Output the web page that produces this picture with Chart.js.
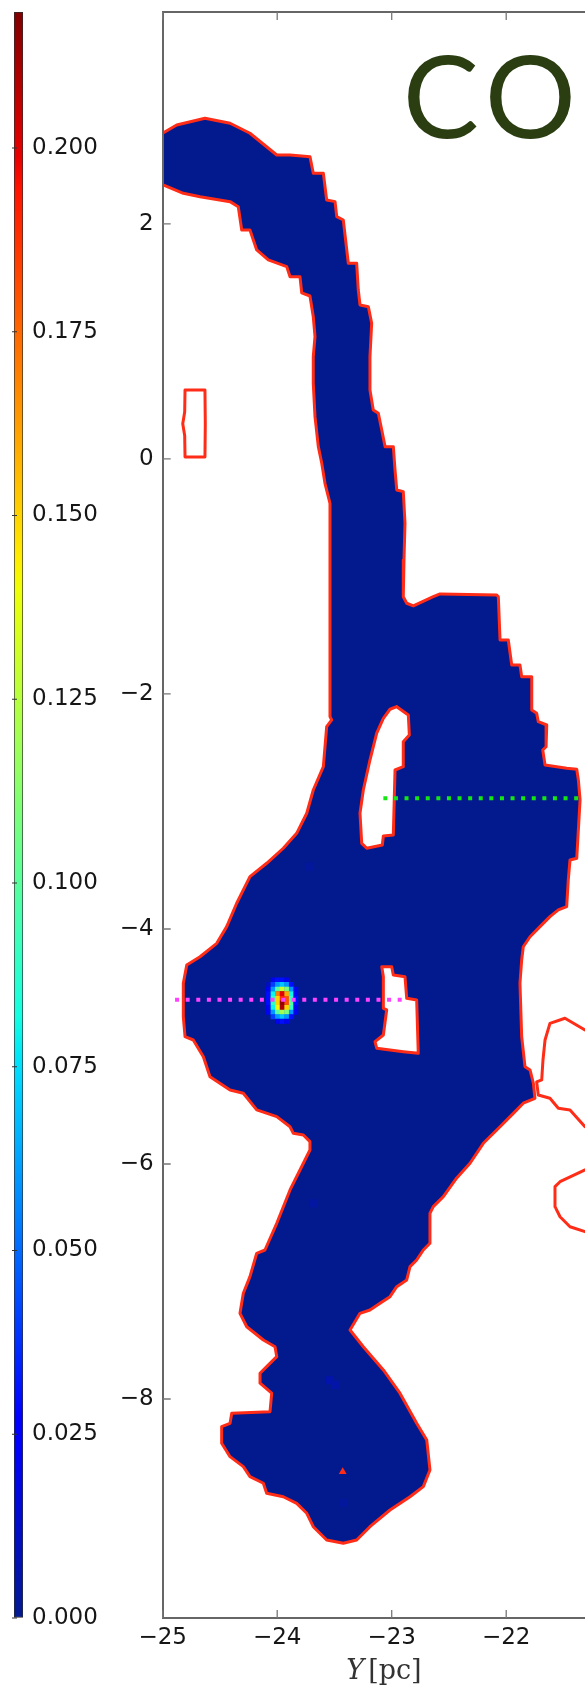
<!DOCTYPE html>
<html>
<head>
<meta charset="utf-8">
<script src="https://cdn.jsdelivr.net/npm/chart.js@4.4.1/dist/chart.umd.min.js"></script>
<style>
  html, body { margin: 0; padding: 0; background: #fff; }
  #stage { position: relative; width: 585px; height: 1688px; overflow: hidden; background: #fff; }
  #map, #cbar { position: absolute; left: 0; top: 0; }
</style>
</head>
<body>
<div id="stage">
  <canvas id="map" width="620" height="1688"></canvas>
  <canvas id="cbar" width="130" height="1688"></canvas>
</div>
<script>
// ---- axes ----------------------------------------------------------------
const hRange = [-25, -21.222];          // horizontal axis, Y [pc]
const vRange = [-9.864, 3.804];         // vertical axis, pc
const hTicks = [-25, -24, -23, -22];
const vTicks = [2, 0, -2, -4, -6, -8];

// ---- colour scale --------------------------------------------------------
const cbarMax = 0.2185;
const cbarTicks = [0, 0.025, 0.05, 0.075, 0.1, 0.125, 0.15, 0.175, 0.2];
const jetStops = [0, 0.11, 0.125, 0.34, 0.35, 0.375, 0.64, 0.65, 0.66, 0.89, 0.91, 1];
const jetRGB = [[3,26,143],[0,0,255],[0,0,255],[0,219,255],[0,230,247],[21,255,226],
                [238,255,8],[247,246,0],[255,236,0],[255,19,0],[232,0,0],[128,0,0]];
const baseLevel = 0;

// ---- cloud boundary (clockwise), horizontal / vertical coordinates ---------
const outlineH = [
 -25.111,-24.997,-24.878,-24.631,-24.412,-24.238,-24.004,-23.888,-23.714,-23.685,
 -23.597,-23.568,-23.495,-23.480,-23.423,-23.379,-23.306,-23.292,-23.277,-23.204,
 -23.175,-23.190,-23.190,-23.161,-23.117,-23.087,-23.058,-22.986,-22.971,-22.956,
 -22.899,-22.884,-22.893,-22.899,-22.869,-22.811,-22.637,-22.578,-22.083,-22.069,
 -22.054,-21.982,-21.952,-21.880,-21.865,-21.777,-21.777,-21.734,-21.720,-21.646,
 -21.652,-21.681,-21.661,-21.472,-21.384,-21.370,-21.355,-21.370,-21.384,-21.443,
 -21.458,-21.472,-21.545,-21.618,-21.705,-21.792,-21.851,-21.865,-21.880,-21.865,
 -21.836,-21.792,-21.763,-21.749,-21.851,-21.938,-22.054,-22.200,-22.316,-22.432,
 -22.549,-22.637,-22.666,-22.666,-22.724,-22.782,-22.840,-22.869,-22.956,-23.015,
 -23.102,-23.190,-23.277,-23.364,-23.248,-23.073,-22.928,-22.782,-22.694,-22.666,
 -22.724,-22.840,-23.015,-23.190,-23.306,-23.423,-23.568,-23.685,-23.742,-23.830,
 -23.947,-24.092,-24.121,-24.238,-24.296,-24.412,-24.485,-24.485,-24.412,-24.397,
 -24.063,-24.048,-24.150,-24.150,-24.092,-24.004,-24.019,-24.121,-24.266,-24.325,
 -24.296,-24.238,-24.179,-24.107,-24.004,-23.888,-23.801,-23.714,-23.714,-23.772,
 -23.859,-23.888,-24.004,-24.179,-24.296,-24.412,-24.587,-24.645,-24.733,-24.805,
 -24.820,-24.820,-24.790,-24.674,-24.528,-24.441,-24.354,-24.238,-24.092,-23.947,
 -23.830,-23.742,-23.685,-23.597,-23.568,-23.524,-23.539,-23.539,-23.539,-23.583,
 -23.611,-23.641,-23.670,-23.685,-23.685,-23.670,-23.685,-23.714,-23.786,-23.801,
 -23.888,-23.917,-24.078,-24.179,-24.238,-24.310,-24.340,-24.412,-24.674,-24.820,
 -24.997,-25.111
];
const outlineV = [
 2.757,2.774,2.843,2.900,2.857,2.772,2.587,2.587,2.573,2.431,
 2.431,2.204,2.190,2.062,2.034,1.666,1.666,1.438,1.311,1.296,
 1.155,0.871,0.587,0.417,0.389,0.247,0.105,0.105,-0.094,-0.264,
 -0.278,-0.547,-0.860,-1.172,-1.228,-1.251,-1.172,-1.149,-1.157,-1.172,
 -1.540,-1.540,-1.753,-1.753,-1.853,-1.853,-2.136,-2.164,-2.236,-2.264,
 -2.449,-2.477,-2.604,-2.632,-2.641,-2.732,-2.902,-3.157,-3.398,-3.413,
 -3.583,-3.810,-3.838,-3.895,-3.980,-4.066,-4.151,-4.264,-4.462,-4.917,
 -5.172,-5.200,-5.313,-5.441,-5.483,-5.569,-5.683,-5.824,-5.994,-6.119,
 -6.278,-6.363,-6.420,-6.675,-6.732,-6.817,-6.874,-6.987,-7.044,-7.129,
 -7.186,-7.243,-7.271,-7.413,-7.555,-7.753,-7.951,-8.207,-8.349,-8.604,
 -8.746,-8.832,-8.945,-9.087,-9.200,-9.228,-9.200,-9.087,-8.973,-8.888,
 -8.832,-8.803,-8.717,-8.661,-8.576,-8.491,-8.377,-8.236,-8.207,-8.122,
 -8.108,-7.951,-7.866,-7.781,-7.725,-7.640,-7.555,-7.498,-7.385,-7.271,
 -7.100,-6.959,-6.760,-6.732,-6.505,-6.221,-6.051,-5.881,-5.810,-5.753,
 -5.739,-5.683,-5.597,-5.540,-5.398,-5.370,-5.257,-5.087,-4.945,-4.917,
 -4.746,-4.462,-4.306,-4.236,-4.122,-3.980,-3.781,-3.555,-3.441,-3.313,
 -3.186,-3.015,-2.817,-2.619,-2.278,-2.221,-2.193,-0.860,-0.377,-0.207,
 -0.037,0.105,0.360,0.644,0.871,1.041,1.211,1.387,1.413,1.551,
 1.551,1.637,1.694,1.779,1.949,1.949,2.147,2.190,2.232,2.261,
 2.332,2.340
];

// ---- gaps inside the cloud -------------------------------------------------
const gap1H = [-22.956,-22.855,-22.846,-22.899,-22.899,-22.971,-22.986,-23.073,-23.082,
               -23.218,-23.262,-23.277,-23.248,-23.190,-23.131,-23.073,-23.015];
const gap1V = [-2.108,-2.179,-2.349,-2.406,-2.619,-2.647,-3.200,-3.209,-3.285,
               -3.313,-3.271,-3.015,-2.817,-2.562,-2.334,-2.207,-2.130];
const gap2H = [-23.087,-23.000,-22.986,-22.884,-22.869,-22.782,-22.768,-22.899,-23.131,
               -23.146,-23.073,-23.044,-23.073,-23.073];
const gap2V = [-4.321,-4.321,-4.391,-4.406,-4.590,-4.604,-5.058,-5.044,-5.015,
               -4.959,-4.902,-4.689,-4.675,-4.406];

// ---- other contour pieces ----------------------------------------------------
const islandH = [-24.805,-24.631,-24.628,-24.631,-24.805,-24.808,-24.825,-24.808,-24.805];
const islandV = [0.587,0.587,0.300,0.017,0.017,0.200,0.300,0.400,0.587];
const eastAH = [-21.181,-21.312,-21.487,-21.618,-21.661,-21.679,-21.690,-21.734,-21.720,
                -21.618,-21.545,-21.443,-21.312,-21.181];
const eastAV = [-4.877,-4.860,-4.760,-4.803,-4.945,-5.115,-5.285,-5.302,-5.413,
                -5.441,-5.526,-5.540,-5.683,-5.753];
const eastBH = [-21.181,-21.312,-21.530,-21.574,-21.574,-21.530,-21.443,-21.312,-21.181];
const eastBV = [-6.009,-6.051,-6.151,-6.193,-6.363,-6.449,-6.534,-6.576,-6.587];
const peakH = [-23.428];
const peakV = [-8.619];

// ---- compact emission source (cell grid) -------------------------------------
const spotH = [-24.076,-24.036,-23.997,-23.956,-23.916,-23.876,-23.837];
const spotV = [-4.434,-4.473,-4.512,-4.551,-4.591,-4.630,-4.669,-4.708,-4.747,-4.786];
const spotVal = [
  [0,    0.02, 0.03, 0.03,  0.02, 0,    0   ],
  [0.01, 0.04, 0.06, 0.07,  0.06, 0.03, 0   ],
  [0.02, 0.06, 0.10, 0.13,  0.11, 0.06, 0.02],
  [0.03, 0.08, 0.17, 0.20,  0.16, 0.08, 0.02],
  [0.03, 0.09, 0.15, 0.19,  0.18, 0.09, 0.03],
  [0.03, 0.09, 0.15, 0.215, 0.18, 0.10, 0.03],
  [0.02, 0.08, 0.14, 0.21,  0.15, 0.09, 0.02],
  [0.02, 0.06, 0.10, 0.12,  0.11, 0.06, 0.02],
  [0,    0.04, 0.06, 0.07,  0.06, 0.03, 0   ],
  [0,    0,    0.02, 0.03,  0.02, 0,    0   ]
];
// weak single cells
const faintH = [-23.685, -23.546, -23.490, -23.425, -23.714];
const faintV = [-6.334, -7.840, -7.880, -8.885, -3.470];
const faintVal = [0.004, 0.006, 0.005, 0.003, 0.003];

// ---- cuts ---------------------------------------------------------------------
const cutGreenH = [-23.073, -21.355];
const cutGreenV = [-2.888, -2.888];
const cutPinkH = [-24.892, -22.899];
const cutPinkV = [-4.602, -4.602];

// ---- helpers --------------------------------------------------------------------
function rgbStr(c) { return `rgb(${Math.round(c[0])},${Math.round(c[1])},${Math.round(c[2])})`; }
function cmap(v) {
  const t = Math.min(1, Math.max(0, v / cbarMax));
  for (let i = 1; i < jetStops.length; i++) {
    if (t <= jetStops[i]) {
      const f = (t - jetStops[i - 1]) / (jetStops[i] - jetStops[i - 1]);
      const a = jetRGB[i - 1], b = jetRGB[i];
      return rgbStr([a[0] + (b[0] - a[0]) * f, a[1] + (b[1] - a[1]) * f, a[2] + (b[2] - a[2]) * f]);
    }
  }
  return rgbStr(jetRGB[jetRGB.length - 1]);
}
function pts(hs, vs) { return hs.map((h, i) => ({ x: h, y: vs[i] })); }
function closed(hs, vs) { const p = pts(hs, vs); return p.concat([p[0]]); }
// ring that starts at its left-most vertex and ends at its right-most one,
// so the filler's horizontal clip spans the whole polygon
function shapeData(hs, vs) {
  const p = pts(hs, vs);
  let lo = 0, hi = 0;
  p.forEach((q, i) => { if (q.x < p[lo].x) lo = i; if (q.x > p[hi].x) hi = i; });
  const ring = p.slice(lo).concat(p.slice(0, lo));
  return ring.concat([ring[0], p[hi]]);
}
const fmtTick = v => (v < 0 ? '\u2212' + Math.abs(v) : String(v));

const spotPts = [], spotCol = [];
spotVal.forEach((row, r) => row.forEach((val, c) => {
  if (val > 0) { spotPts.push({ x: spotH[c], y: spotV[r] }); spotCol.push(cmap(val)); }
}));
const faintPts = pts(faintH, faintV);
const faintCol = faintVal.map(cmap);

const RED = '#ff2d17';
const tickFont = { family: 'DejaVu Sans', size: 23 };
const contour = (data) => ({ data, borderColor: RED, borderWidth: 3, pointRadius: 0, fill: false,
                             borderJoinStyle: 'round', borderCapStyle: 'round', order: 5 });

// ---- decorations drawn on the map chart ----------------------------------------
const mapDecor = {
  id: 'mapDecor',
  afterDraw(chart) {
    const { ctx, chartArea: a, scales: { x, y } } = chart;
    ctx.save();
    // inward tick marks
    ctx.strokeStyle = '#777';
    ctx.lineWidth = 1.3;
    ctx.beginPath();
    hTicks.forEach(v => {
      const px = x.getPixelForValue(v);
      ctx.moveTo(px, a.bottom); ctx.lineTo(px, a.bottom - 8);
      ctx.moveTo(px, a.top); ctx.lineTo(px, a.top + 8);
    });
    vTicks.forEach(v => {
      const py = y.getPixelForValue(v);
      ctx.moveTo(a.left, py); ctx.lineTo(a.left + 8, py);
    });
    ctx.stroke();

    // horizontal axis title: italic Y, then [pc]
    const cx = (a.left + a.right) / 2 + 5;
    const base = a.bottom + 61;
    ctx.fillStyle = '#333';
    ctx.textBaseline = 'alphabetic';
    ctx.textAlign = 'left';
    const fItal = 'italic 27px "DejaVu Serif"', fReg = '27px "DejaVu Serif"';
    ctx.font = fItal; const wY = ctx.measureText('Y').width;
    ctx.font = fReg; const wP = ctx.measureText('[pc]').width;
    const gap = 4;
    const x0 = cx - (wY + gap + wP) / 2;
    ctx.font = fItal; ctx.fillText('Y', x0, base);
    ctx.font = fReg; ctx.fillText('[pc]', x0 + wY + gap, base);

    // species label
    ctx.font = '400 114px Lato';
    ctx.fillStyle = '#2a3e12';
    ctx.fillText('C', a.left + 240, a.top + 126);
    const wC = ctx.measureText('C').width;
    ctx.fillText('O', a.left + 240 + wC + 6, a.top + 126);
    ctx.restore();
  }
};

new Chart(document.getElementById('map'), {
  type: 'line',
  data: {
    datasets: [
      { data: shapeData(outlineH, outlineV), fill: 'shape', backgroundColor: cmap(baseLevel),
        borderWidth: 0, pointRadius: 0, order: 10 },
      { data: shapeData(gap1H, gap1V), fill: 'shape', backgroundColor: '#ffffff',
        borderWidth: 0, pointRadius: 0, order: 9 },
      { data: shapeData(gap2H, gap2V), fill: 'shape', backgroundColor: '#ffffff',
        borderWidth: 0, pointRadius: 0, order: 9 },
      { data: faintPts, showLine: false, pointStyle: 'rect', pointRadius: 5.7,
        pointBackgroundColor: faintCol, pointBorderWidth: 0, order: 8 },
      { data: spotPts, showLine: false, pointStyle: 'rect', pointRadius: 3.5,
        pointBackgroundColor: spotCol, pointBorderWidth: 0, order: 7 },
      contour(closed(outlineH, outlineV)),
      contour(closed(gap1H, gap1V)),
      contour(closed(gap2H, gap2V)),
      contour(closed(islandH, islandV)),
      contour(pts(eastAH, eastAV)),
      contour(pts(eastBH, eastBV)),
      { data: pts(cutGreenH, cutGreenV), borderColor: '#14e614', borderWidth: 4,
        borderDash: [4, 6.6], borderCapStyle: 'butt', pointRadius: 0, fill: false, order: 2 },
      { data: pts(cutPinkH, cutPinkV), borderColor: '#ff42ff', borderWidth: 4,
        borderDash: [4, 6.6], borderCapStyle: 'butt', pointRadius: 0, fill: false, order: 2 },
      { data: pts(peakH, peakV), showLine: false, pointStyle: 'triangle', pointRadius: 4.5,
        pointBackgroundColor: RED, pointBorderWidth: 0, order: 1 }
    ]
  },
  options: {
    responsive: false,
    animation: false,
    events: [],
    layout: { padding: { left: 0, right: 24.7, top: 12, bottom: 0 } },
    plugins: { legend: { display: false }, tooltip: { enabled: false } },
    scales: {
      x: {
        type: 'linear', position: 'bottom', min: hRange[0], max: hRange[1],
        afterBuildTicks: s => { s.ticks = hTicks.map(v => ({ value: v })); },
        afterFit: s => { s.height = 70; s.paddingLeft = 0; s.paddingRight = 0; },
        grid: { drawOnChartArea: false, drawTicks: false },
        border: { display: true, color: '#666', width: 2, z: 1 },
        ticks: { font: tickFont, color: '#161616', padding: 6, maxRotation: 0, autoSkip: false,
                 callback: fmtTick }
      },
      xTop: {
        type: 'linear', position: 'top', min: hRange[0], max: hRange[1],
        afterFit: s => { s.height = 0; s.paddingLeft = 0; s.paddingRight = 0; },
        grid: { drawOnChartArea: false, drawTicks: false },
        border: { display: true, color: '#666', width: 2, z: 1 },
        ticks: { display: false }
      },
      y: {
        type: 'linear', position: 'left', min: vRange[0], max: vRange[1],
        afterBuildTicks: s => { s.ticks = vTicks.map(v => ({ value: v })); },
        afterFit: s => { s.width = 162.7; s.paddingTop = 0; s.paddingBottom = 0; },
        grid: { drawOnChartArea: false, drawTicks: false },
        border: { display: true, color: '#666', width: 2, z: 1 },
        ticks: { font: tickFont, color: '#161616', padding: 9, autoSkip: false, callback: fmtTick }
      }
    }
  },
  plugins: [mapDecor]
});

// ---- colour bar -------------------------------------------------------------------
const cbarDecor = {
  id: 'cbarDecor',
  afterDraw(chart) {
    const { ctx, chartArea: a, scales: { y } } = chart;
    ctx.save();
    ctx.strokeStyle = '#333';
    ctx.lineWidth = 1.2;
    ctx.beginPath();
    cbarTicks.forEach(v => {
      const py = y.getPixelForValue(v);
      ctx.moveTo(a.left - 2, py); ctx.lineTo(a.left + 3, py);
    });
    ctx.stroke();
    ctx.restore();
  }
};

new Chart(document.getElementById('cbar'), {
  type: 'bar',
  data: {
    labels: [''],
    datasets: [{
      data: [cbarMax],
      backgroundColor: (c) => {
        const a = c.chart.chartArea;
        if (!a) return cmap(0);
        const g = c.chart.ctx.createLinearGradient(0, a.bottom, 0, a.top);
        jetStops.forEach((s, i) => g.addColorStop(s, rgbStr(jetRGB[i])));
        return g;
      },
      borderColor: '#2b2b2b', borderWidth: 1, borderSkipped: false,
      barPercentage: 1, categoryPercentage: 1
    }]
  },
  options: {
    responsive: false,
    animation: false,
    events: [],
    layout: { padding: { left: 14, right: 0, top: 12, bottom: 70 } },
    plugins: { legend: { display: false }, tooltip: { enabled: false } },
    scales: {
      x: { display: false },
      y: {
        position: 'right', min: 0, max: cbarMax,
        afterBuildTicks: s => { s.ticks = cbarTicks.map(v => ({ value: v })); },
        afterFit: s => { s.width = 107; s.paddingTop = 0; s.paddingBottom = 0; },
        grid: { drawOnChartArea: false, drawTicks: false },
        border: { display: false },
        ticks: { font: tickFont, color: '#161616', padding: 9, autoSkip: false,
                 callback: v => v.toFixed(3) }
      }
    }
  },
  plugins: [cbarDecor]
});
</script>
</body>
</html>
